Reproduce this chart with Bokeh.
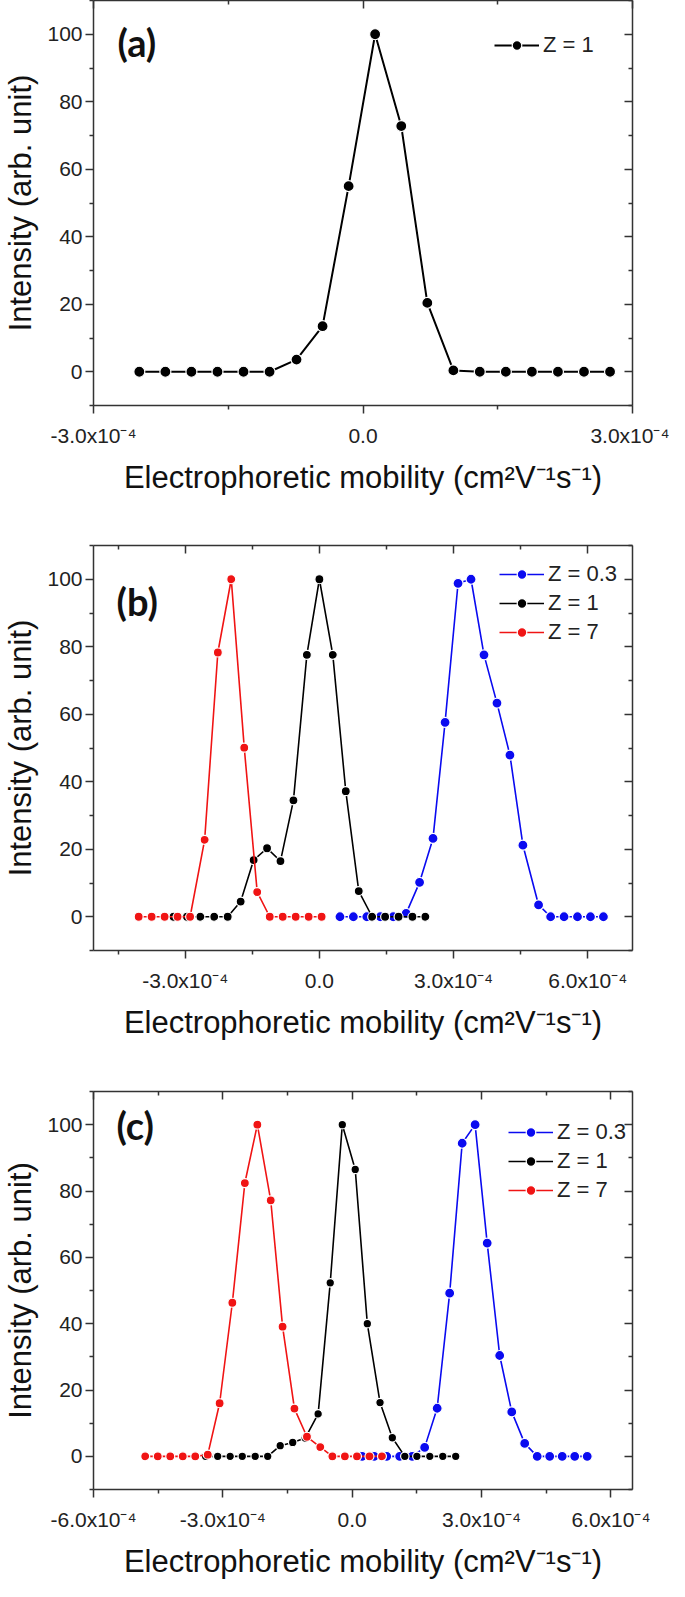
from bokeh.plotting import figure
from bokeh.models import (LinearAxis, FixedTicker, Range1d, Legend, LegendItem,
                          Label, CustomJSTickFormatter)
from bokeh.layouts import column
from bokeh.embed import file_html
from bokeh.resources import INLINE

# ---------------- data ----------------
# Panel (a)
a_z1_x = [-2.49e-4, -2.20e-4, -1.91e-4, -1.62e-4, -1.33e-4, -1.04e-4, -0.74e-4,
          -0.45e-4, -0.16e-4, 0.135e-4, 0.426e-4, 0.716e-4, 1.006e-4, 1.30e-4,
          1.59e-4, 1.88e-4, 2.17e-4, 2.46e-4, 2.75e-4]
a_z1_y = [0, 0, 0, 0, 0, 0, 3.6, 13.5, 55, 100, 72.8, 20.4, 0.4, 0, 0, 0, 0, 0, 0]

# Panel (b)
b_z7_x = [-4.04e-4, -3.75e-4, -3.46e-4, -3.17e-4, -2.89e-4, -2.565e-4, -2.27e-4,
          -1.97e-4, -1.68e-4, -1.39e-4, -1.11e-4, -0.82e-4, -0.53e-4, -0.24e-4, 0.05e-4]
b_z7_y = [0, 0, 0, 0, 0, 22.8, 78.3, 100, 50.1, 7.3, 0, 0, 0, 0, 0]
b_z1_x = [-3.26e-4, -2.96e-4, -2.66e-4, -2.35e-4, -2.05e-4, -1.76e-4, -1.47e-4,
          -1.17e-4, -0.87e-4, -0.58e-4, -0.28e-4, 0.0, 0.30e-4, 0.59e-4, 0.88e-4,
          1.18e-4, 1.47e-4, 1.77e-4, 2.08e-4, 2.37e-4]
b_z1_y = [0, 0, 0, 0, 0, 4.5, 16.8, 20.3, 16.5, 34.5, 77.6, 100, 77.6, 37.2, 7.6,
          0, 0, 0, 0, 0]
b_z03_x = [0.46e-4, 0.76e-4, 1.06e-4, 1.36e-4, 1.65e-4, 1.94e-4, 2.24e-4, 2.54e-4,
           2.81e-4, 3.10e-4, 3.39e-4, 3.68e-4, 3.97e-4, 4.26e-4, 4.55e-4, 4.90e-4,
           5.17e-4, 5.47e-4, 5.77e-4, 6.06e-4, 6.35e-4]
b_z03_y = [0, 0, 0, 0, 0, 1.0, 10.2, 23.2, 57.6, 98.8, 100, 77.6, 63.3, 47.9, 21.2,
           3.5, 0, 0, 0, 0, 0]

# Panel (c)
c_z7_x = [-4.80e-4, -4.51e-4, -4.22e-4, -3.93e-4, -3.64e-4, -3.35e-4, -3.075e-4,
          -2.78e-4, -2.49e-4, -2.20e-4, -1.89e-4, -1.615e-4, -1.34e-4, -1.05e-4,
          -0.74e-4, -0.46e-4, -0.17e-4, 0.11e-4, 0.40e-4, 0.69e-4]
c_z7_y = [0, 0, 0, 0, 0, 0.5, 16.0, 46.3, 82.4, 100, 77.2, 39.1, 14.4, 5.9, 2.8,
          0, 0, 0, 0, 0]
c_z1_x = [-3.40e-4, -3.12e-4, -2.83e-4, -2.55e-4, -2.25e-4, -1.96e-4, -1.67e-4,
          -1.38e-4, -1.09e-4, -0.79e-4, -0.51e-4, -0.23e-4, 0.07e-4, 0.35e-4,
          0.645e-4, 0.93e-4, 1.22e-4, 1.50e-4, 1.80e-4, 2.10e-4, 2.40e-4]
c_z1_y = [0, 0, 0, 0, 0, 0, 3.2, 4.2, 5.5, 12.8, 52.3, 100, 86.5, 40, 16.2, 5.6,
          0, 0, 0, 0, 0]
c_z03_x = [0.23e-4, 0.51e-4, 0.80e-4, 1.10e-4, 1.39e-4, 1.68e-4, 1.97e-4, 2.26e-4,
           2.55e-4, 2.85e-4, 3.13e-4, 3.42e-4, 3.70e-4, 4.00e-4, 4.29e-4, 4.58e-4,
           4.87e-4, 5.16e-4, 5.45e-4]
c_z03_y = [0, 0, 0, 0, 0, 2.7, 14.5, 49.2, 94.4, 100, 64.3, 30.4, 13.4, 3.9,
           0, 0, 0, 0, 0]

# axis ticks
y_major = [0, 20, 40, 60, 80, 100]
y_minor = [-10, 10, 30, 50, 70, 90, 110]
a_x_major = [-3e-4, 0.0, 3e-4]
a_x_minor = [-1.5e-4, 1.5e-4]
b_x_major = [-3e-4, 0.0, 3e-4, 6e-4]
b_x_minor = [-4.5e-4, -1.5e-4, 1.5e-4, 4.5e-4]
c_x_major = [-6e-4, -3e-4, 0.0, 3e-4, 6e-4]
c_x_minor = [-4.5e-4, -1.5e-4, 1.5e-4, 4.5e-4]

labels = ["Z = 0.3", "Z = 1", "Z = 7"]
x_title = "Electrophoretic mobility (cm\u00b2V\u207b\u00b9s\u207b\u00b9)"
y_title = "Intensity (arb. unit)"

BLUE = "#0a0af0"
BLACK = "#000000"
RED = "#f01414"
AX = "#333333"
FONT = "Liberation Sans"

fmt_code = """
const v = Math.round(tick * 1e5) / 10;
if (Math.abs(v) < 1e-9) return "0.0";
return v.toFixed(1) + "x10\u207b\u2074";
"""


def style_axis(ax, outward, labels_on):
    ax.axis_line_color = AX
    ax.axis_line_width = 1.5
    ax.major_tick_line_color = AX
    ax.minor_tick_line_color = AX
    ax.major_tick_line_width = 1.5
    ax.minor_tick_line_width = 1.5
    if outward:
        ax.major_tick_out, ax.major_tick_in = 8, 0
        ax.minor_tick_out, ax.minor_tick_in = 4, 0
    else:
        ax.major_tick_out, ax.major_tick_in = 0, 8
        ax.minor_tick_out, ax.minor_tick_in = 0, 4
    if labels_on:
        ax.major_label_text_font = FONT
        ax.major_label_text_font_size = "21px"
        ax.major_label_text_color = "#222222"
        ax.axis_label_text_font = FONT
        ax.axis_label_text_font_size = "31px"
        ax.axis_label_text_font_style = "normal"
        ax.axis_label_text_color = "#111111"
    else:
        ax.major_label_text_color = None
        ax.major_label_text_font_size = "1px"
        ax.major_label_standoff = 0


def make_panel(height, top, bottom, xr, xmaj, xmin, series, legend_loc, tag, tag_pos):
    p = figure(width=669, height=height, output_backend="svg", toolbar_location=None,
               x_range=Range1d(*xr), y_range=Range1d(-10, 110),
               min_border_left=88, min_border_right=37,
               min_border_top=top, min_border_bottom=bottom)
    p.outline_line_color = None
    p.xgrid.grid_line_color = None
    p.ygrid.grid_line_color = None
    p.background_fill_color = "white"
    p.border_fill_color = "white"

    xt = FixedTicker(ticks=xmaj, minor_ticks=xmin)
    yt = FixedTicker(ticks=y_major, minor_ticks=y_minor)

    bx = p.xaxis[0]
    bx.ticker = xt
    bx.formatter = CustomJSTickFormatter(code=fmt_code)
    bx.axis_label = x_title
    style_axis(bx, True, True)
    bx.major_label_standoff = 10
    bx.axis_label_standoff = 10

    ly = p.yaxis[0]
    ly.ticker = yt
    ly.axis_label = y_title
    style_axis(ly, True, True)
    ly.major_label_standoff = 3
    ly.axis_label_standoff = 6

    tx = LinearAxis(ticker=xt)
    style_axis(tx, False, False)
    p.add_layout(tx, "above")
    ry = LinearAxis(ticker=yt)
    style_axis(ry, False, False)
    p.add_layout(ry, "right")

    items = []
    for (xs, ys, color, lw, ms, lab) in series:
        ln = p.line(xs, ys, line_color=color, line_width=lw)
        sc = p.scatter(xs, ys, marker="circle", size=ms, fill_color=color,
                       line_color="white", line_width=1.2)
        items.append((lab, ln, sc))
    order = {"Z = 0.3": 0, "Z = 1": 1, "Z = 7": 2}
    items.sort(key=lambda t: order[t[0]])
    leg = Legend(items=[LegendItem(label=l, renderers=[a, b]) for (l, a, b) in items],
                 location=legend_loc, background_fill_alpha=0, border_line_alpha=0,
                 label_text_font=FONT, label_text_font_size="22px",
                 label_text_color="#222222",
                 glyph_width=45, glyph_height=24, label_height=24, spacing=3,
                 padding=0, margin=0, label_standoff=4)
    p.add_layout(leg)

    p.add_layout(Label(x=tag_pos[0], y=tag_pos[1], x_units="screen", y_units="screen",
                       text=tag, text_font="Lato", text_font_style="bold",
                       text_font_size="38px", text_baseline="middle",
                       text_align="left", text_color="#111111"))
    return p


pa = make_panel(535, 0, 130, (-3e-4, 3e-4), a_x_major, a_x_minor,
                [(a_z1_x, a_z1_y, BLACK, 2, 11, labels[1])],
                (401, 347), "(a)", (24, 364))
pb = make_panel(546, 10, 131, (-5.05e-4, 7.0e-4), b_x_major, b_x_minor,
                [(b_z03_x, b_z03_y, BLUE, 1.6, 10, labels[0]),
                 (b_z1_x, b_z1_y, BLACK, 1.6, 9, labels[1]),
                 (b_z7_x, b_z7_y, RED, 1.6, 9, labels[2])],
                (406, 305), "(b)", (23, 350))
pc = make_panel(500, 10, 85, (-6e-4, 6.5e-4), c_x_major, c_x_minor,
                [(c_z03_x, c_z03_y, BLUE, 1.6, 10, labels[0]),
                 (c_z1_x, c_z1_y, BLACK, 1.6, 8.5, labels[1]),
                 (c_z7_x, c_z7_y, RED, 1.6, 9, labels[2])],
                (415, 286), "(c)", (23, 365))

layout = column(pa, pb, pc, spacing=0)
open("out.html", "w").write(file_html(layout, INLINE))
